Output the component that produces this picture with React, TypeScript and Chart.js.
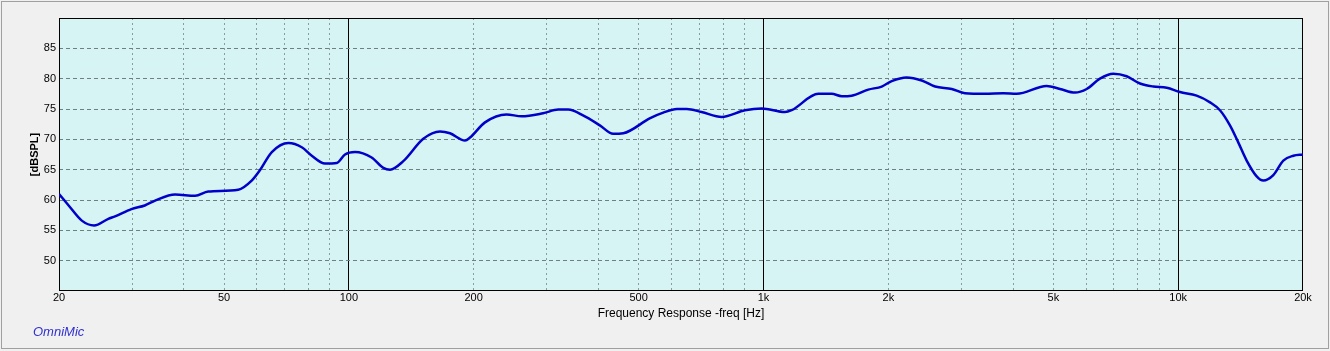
import React, { useEffect, useRef } from 'react';
import { Chart, registerables } from 'chart.js';

Chart.register(...registerables);

// Frequency response samples (Hz) and levels (dB SPL)
const freqHz = [
  20, 21.1, 22.7, 24.3, 26.3, 27.3, 29.9, 32.2, 34.1, 38.1, 42.6, 45.8, 54.1, 58.3, 61.0, 65.2,
  71.5, 77.0, 81.4, 87.6, 93.5, 97.9, 103.5, 113.5, 121.1, 125.7, 135.3, 151.2, 165.9, 175.4,
  190.6, 196, 213, 240, 261, 294, 320, 338, 368, 403, 434, 459, 533, 573, 618, 653, 709, 793,
  902, 990, 1127, 1169, 1356, 1460, 1544, 1632, 1789, 1928, 2038, 2214, 2408, 2593, 2844, 3061,
  3421, 3788, 4080, 4818, 5188, 5638, 6018, 6476, 6974, 7512, 8090, 8710, 9384, 10102, 11080,
  11934, 12612, 13332, 13960, 14628, 15464, 16044, 16960, 17930, 18952, 20000,
];
const splDb = [
  61.0, 59.1, 56.6, 55.8, 56.9, 57.3, 58.5, 59.1, 59.9, 60.9, 60.7, 61.4, 61.7, 63.2, 64.9, 67.9,
  69.4, 68.7, 67.3, 66.0, 66.1, 67.5, 67.9, 67.0, 65.3, 65.0, 66.4, 70.1, 71.3, 71.0,
  69.8, 70.3, 72.8, 74.1, 73.8, 74.3, 74.9, 74.9, 73.9, 72.3, 70.9, 71.0, 73.5, 74.4, 75.0, 75.0, 74.5, 73.7,
  74.8, 75.1, 74.5, 74.8, 77.5, 77.5, 77.1, 77.2, 78.2, 78.7, 79.6, 80.2, 79.7, 78.7, 78.3, 77.6,
  77.5, 77.6, 77.5, 78.8, 78.3, 77.7, 78.3, 80.0, 80.8, 80.4, 79.2, 78.7, 78.5, 77.8, 77.2,
  76.1, 74.8, 72.3, 69.5, 66.5, 63.9, 63.2, 64.1, 66.5, 67.3, 67.5,
];

const xGridFreqs = [
  20, 30, 40, 50, 60, 70, 80, 90, 100, 200, 300, 400, 500, 600, 700, 800, 900,
  1000, 2000, 3000, 4000, 5000, 6000, 7000, 8000, 9000, 10000, 20000,
];
const xLabelFreqs = [20, 50, 100, 200, 500, 1000, 2000, 5000, 10000, 20000];
const xLabelTexts = ['20', '50', '100', '200', '500', '1k', '2k', '5k', '10k', '20k'];
const decadeFreqs = [100, 1000, 10000];
const yTickValues = [50, 55, 60, 65, 70, 75, 80, 85];
const yMin = 45;
const yMax = 90;
const xMin = 20;
const xMax = 20000;

const plotPlugin = {
  id: 'plotFrame',
  beforeDraw(chart: any) {
    const { ctx, chartArea } = chart;
    ctx.save();
    ctx.fillStyle = '#d6f4f4';
    ctx.fillRect(chartArea.left, chartArea.top, chartArea.right - chartArea.left, chartArea.bottom - chartArea.top);
    ctx.restore();
  },
  beforeDatasetsDraw(chart: any) {
    const { ctx, chartArea } = chart;
    ctx.save();
    ctx.strokeStyle = '#000000';
    ctx.lineWidth = 1;
    ctx.strokeRect(
      Math.round(chartArea.left) + 0.5,
      Math.round(chartArea.top) + 0.5,
      Math.round(chartArea.right - chartArea.left) - 1,
      Math.round(chartArea.bottom - chartArea.top) - 1,
    );
    ctx.restore();
  },
};

export default function App() {
  const canvasRef = useRef<HTMLCanvasElement | null>(null);

  useEffect(() => {
    if (!canvasRef.current) return;
    const points = freqHz.map((f, i) => ({ x: f, y: splDb[i] }));
    const chart = new Chart(canvasRef.current, {
      type: 'line',
      data: {
        datasets: [
          {
            data: points,
            borderColor: '#0000c8',
            borderWidth: 2.5,
            pointRadius: 0,
            fill: false,
            tension: 0.4,
            cubicInterpolationMode: 'monotone',
          },
        ],
      },
      options: {
        animation: false,
        responsive: false,
        devicePixelRatio: 1,
        parsing: false as any,
        layout: { padding: { left: 0, top: 18, right: 27, bottom: 0 } },
        plugins: {
          legend: { display: false },
          tooltip: { enabled: false },
        },
        scales: {
          x: {
            type: 'logarithmic',
            min: xMin,
            max: xMax,
            afterBuildTicks: (scale: any) => {
              scale.ticks = xGridFreqs.map((v) => ({ value: v }));
            },
            afterFit: (scale: any) => {
              scale.height = 60;
            },
            ticks: {
              autoSkip: false,
              maxRotation: 0,
              minRotation: 0,
              padding: 0,
              color: '#000000',
              font: { family: 'Liberation Sans, Arial, sans-serif', size: 11 },
              callback: (value: any) => {
                const idx = xLabelFreqs.indexOf(Number(value));
                return idx >= 0 ? xLabelTexts[idx] : '';
              },
            },
            grid: {
              drawTicks: false,
              lineWidth: 1,
              color: (ctx: any) => {
                const v = ctx.tick ? ctx.tick.value : null;
                if (v === xMin || v === xMax) return 'rgba(0,0,0,0)';
                if (decadeFreqs.includes(v)) return '#000000';
                return '#8a9c9c';
              },
            },
            border: {
              display: false,
              dash: (ctx: any) => {
                const v = ctx.tick ? ctx.tick.value : null;
                if (v === null || decadeFreqs.includes(v)) return [];
                return [2, 3];
              },
            } as any,
            title: {
              display: true,
              text: 'Frequency Response -freq [Hz]',
              color: '#000000',
              font: { family: 'Liberation Sans, Arial, sans-serif', size: 12 },
              padding: { top: 0, bottom: 30 },
            },
          },
          y: {
            type: 'linear',
            min: yMin,
            max: yMax,
            afterBuildTicks: (scale: any) => {
              scale.ticks = yTickValues.map((v) => ({ value: v }));
            },
            afterFit: (scale: any) => {
              scale.width = 59;
            },
            ticks: {
              padding: 3,
              color: '#000000',
              font: { family: 'Liberation Sans, Arial, sans-serif', size: 11 },
            },
            grid: {
              drawTicks: false,
              lineWidth: 1,
              color: '#6f8080',
            },
            border: {
              display: false,
              dash: [4, 3],
            },
            title: {
              display: true,
              text: '[dBSPL]',
              color: '#000000',
              font: { family: 'Liberation Sans, Arial, sans-serif', size: 11, weight: 'bold' },
              padding: { top: 28, bottom: 0 },
            },
          },
        },
      },
      plugins: [plotPlugin],
    } as any);
    return () => chart.destroy();
  }, []);

  return (
    <div
      style={{
        position: 'absolute',
        left: 0,
        top: 0,
        width: 1330,
        height: 351,
        background: '#f0f0f0',
        overflow: 'hidden',
      }}
    >
      <div
        style={{
          position: 'absolute',
          left: 1,
          top: 1,
          width: 1326,
          height: 346,
          border: '1px solid #a0a0a0',
        }}
      />
      <canvas ref={canvasRef} width={1330} height={351} style={{ position: 'absolute', left: 0, top: 0 }} />
      <div
        style={{
          position: 'absolute',
          left: 33,
          top: 324,
          fontFamily: 'Liberation Sans, Arial, sans-serif',
          fontStyle: 'italic',
          fontSize: 13,
          color: '#3030d0',
          lineHeight: '16px',
        }}
      >
        OmniMic
      </div>
    </div>
  );
}
